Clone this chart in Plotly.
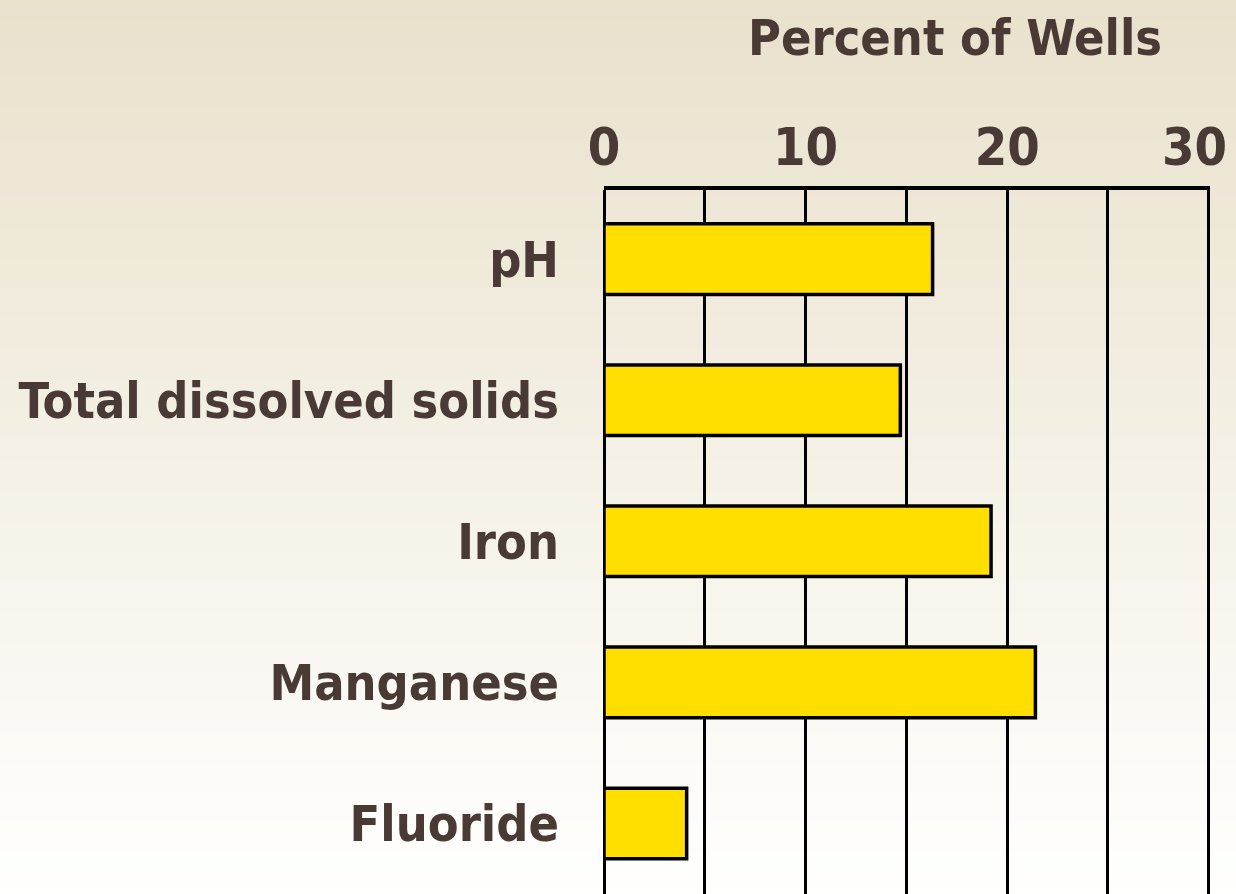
import plotly.graph_objects as go

categories = ["pH", "Total dissolved solids", "Iron", "Manganese", "Fluoride"]
percent_values = [16.3, 14.7, 19.2, 21.4, 4.1]
tick_values = [0, 5, 10, 15, 20, 25, 30]
tick_labels = ["0", "", "10", "", "20", "", "30"]

W, H = 1236, 894
ML, MR, MT, MB = 604, 26, 190, 0
TEXT = "#4a3a35"
FONT = "Liberation Sans Narrow, DejaVu Sans Condensed, Arial Narrow, sans-serif"

fig = go.Figure()
fig.add_trace(go.Bar(
    y=categories, x=percent_values, orientation="h", width=0.5,
    marker=dict(color="#ffde00", line=dict(color="black", width=3.5)),
    hoverinfo="x+y",
))

# background vertical gradient (style only), drawn as strips in paper coords
shapes = []
top = (233, 225, 204)
bot = (255, 255, 254)
step = 6
pw = W - ML - MR
ph = H - MT - MB
for py in range(0, H, step):
    t = py / H
    c = tuple(round(top[i] + (bot[i] - top[i]) * t) for i in range(3))
    y0 = (H - MB - (py + step)) / ph
    y1 = (H - MB - py) / ph
    shapes.append(dict(type="rect", xref="paper", yref="paper",
                       x0=-ML / pw - 0.01, x1=1 + MR / pw + 0.01, y0=y0, y1=y1,
                       fillcolor="rgb(%d,%d,%d)" % c, line=dict(width=0),
                       layer="below"))

# last tick label drawn right-aligned at its tick so it stays inside the page
axis_ticktext = tick_labels[:-1] + [""]
last_label = dict(
    text=tick_labels[-1], xref="x", yref="paper", x=tick_values[-1], y=1,
    xanchor="right", yanchor="bottom", xshift=20, yshift=11, showarrow=False,
    font=dict(family=FONT, size=52, color=TEXT, weight="bold"),
)

fig.update_layout(
    width=W, height=H,
    margin=dict(l=ML, r=MR, t=MT, b=MB, pad=0, autoexpand=False),
    paper_bgcolor="#fdfcfa", plot_bgcolor="rgba(0,0,0,0)",
    showlegend=False,
    shapes=shapes,
    font=dict(family=FONT, color=TEXT, size=50, weight="bold"),
    xaxis=dict(
        side="top", range=[0, 30.06], tickvals=tick_values, ticktext=axis_ticktext,
        showgrid=True, gridcolor="black", gridwidth=3,
        zeroline=True, zerolinecolor="black", zerolinewidth=3,
        showline=True, linecolor="black", linewidth=3.5, mirror=False,
        ticks="", ticklabelstandoff=0, automargin=False,
        ticklabeloverflow="allow",
        tickfont=dict(family=FONT, size=52, color=TEXT, weight="bold"),
        fixedrange=True,
    ),
    yaxis=dict(
        type="category", categoryorder="array", categoryarray=categories,
        range=[4.5, -0.49], showgrid=False, zeroline=False, showline=False,
        ticks="", ticklabelstandoff=44, automargin=False,
        tickfont=dict(family=FONT, size=50, color=TEXT, weight="bold"),
        fixedrange=True,
    ),
    annotations=[
        dict(
            text="Percent of Wells", xref="paper", yref="paper",
            x=(955 - ML) / pw, y=(H - 38) / ph, xanchor="center", yanchor="middle",
            showarrow=False, font=dict(family=FONT, size=50, color=TEXT, weight="bold"),
        ),
        last_label,
    ],
)

fig.write_html(
    "out.html",
    config={"displayModeBar": False},
    post_script="document.body.style.margin='0';document.body.style.overflow='hidden';",
)
